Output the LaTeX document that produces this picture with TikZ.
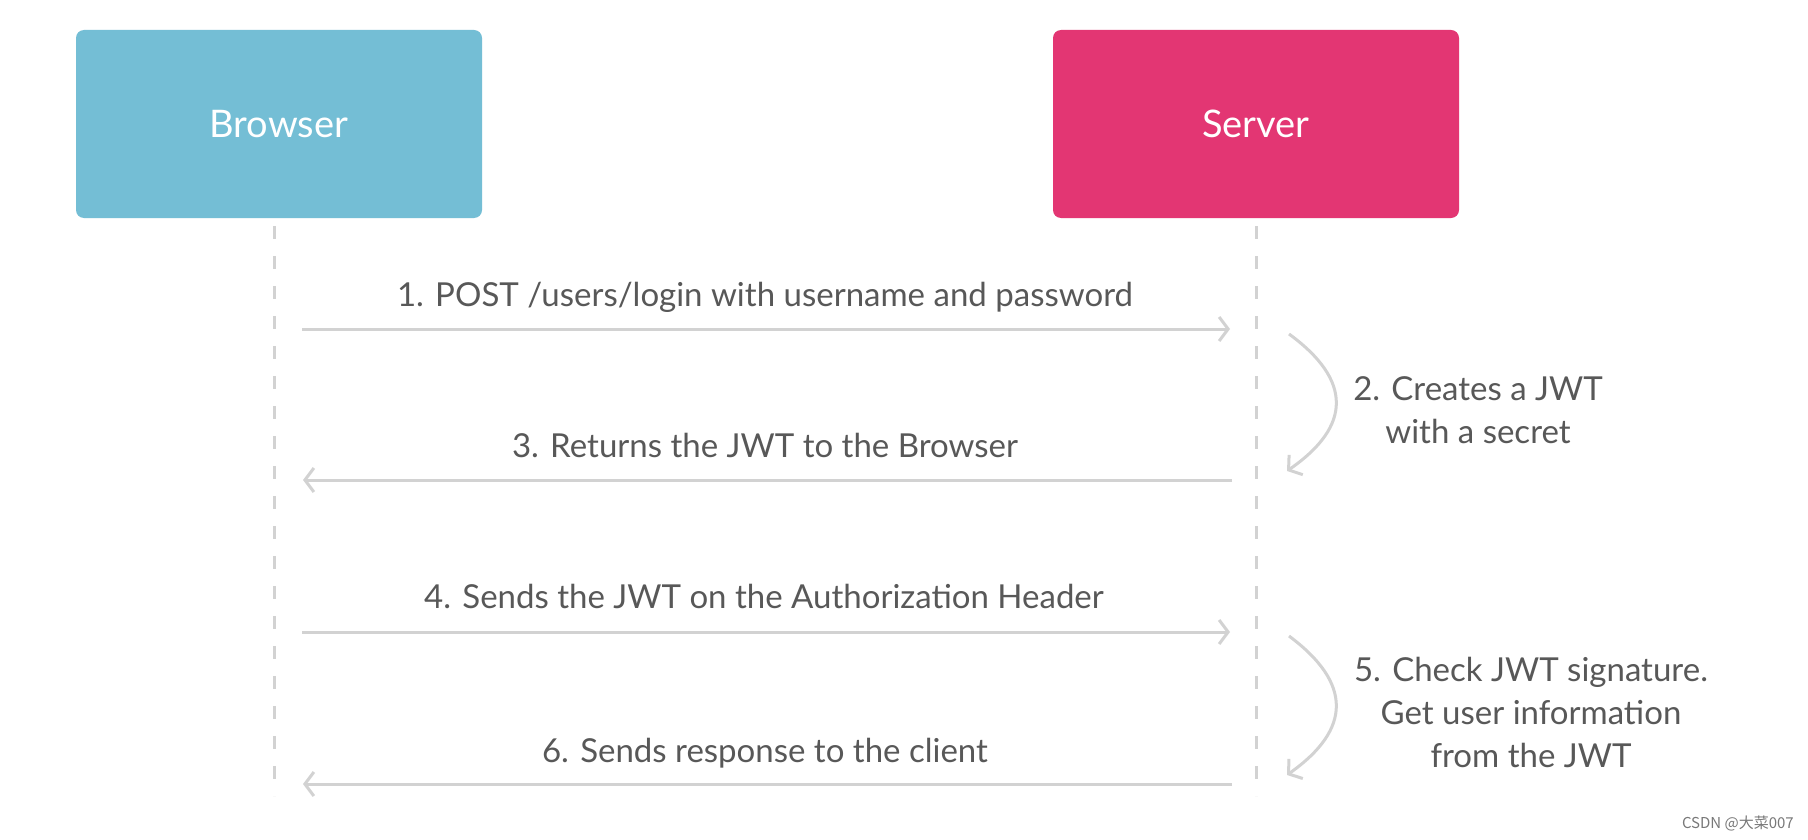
\documentclass[tikz,border=0pt]{standalone}
\usepackage{fontspec}
\setmainfont{Lato}
\newfontfamily\cjkfont{Noto Sans CJK SC}
\usetikzlibrary{arrows.meta}
\definecolor{bblue}{RGB}{116,190,213}
\definecolor{spink}{RGB}{227,54,115}
\definecolor{lgray}{RGB}{210,210,210}
\definecolor{tgray}{RGB}{88,88,88}
\definecolor{wgray}{RGB}{120,120,120}
\begin{document}
\begin{tikzpicture}[x=1pt,y=-1pt,
  actor/.style={rounded corners=8pt, minimum width=406pt, minimum height=188pt, text=white, font=\fontsize{38}{42}\selectfont, inner sep=0pt},
  lifeline/.style={draw=lgray, line width=3pt, dash pattern=on 13pt off 17pt},
  msg/.style={draw=lgray, line width=3pt, -{Straight Barb[length=9pt,width=24pt,line width=3pt]}},
  lbl/.style={text=tgray, font=\fontsize{33}{39}\selectfont, inner sep=0pt, anchor=base},
  note/.style={text=tgray, font=\fontsize{33}{43}\selectfont, align=center, inner sep=0pt},
]
\useasboundingbox (0,0) rectangle (1808,840);
\fill[white] (0,0) rectangle (1808,840);
% actors
\node[actor, fill=bblue] (browser) at (279,124) {Browser};
\node[actor, fill=spink] (server) at (1256,124) {Server};
% lifelines
\coordinate (bTop) at (274,226);
\coordinate (bBot) at (274,796);
\coordinate (sTop) at (1256,226);
\coordinate (sBot) at (1256,796);
\draw[lifeline] (bTop) -- (bBot);
\draw[lifeline] (sTop) -- (sBot);
% message end points
\coordinate (m1s) at (302,329);
\coordinate (m1e) at (1230,329);
\coordinate (m3s) at (1232,480);
\coordinate (m3e) at (303,480);
\coordinate (m4s) at (302,632);
\coordinate (m4e) at (1230,632);
\coordinate (m6s) at (1232,784);
\coordinate (m6e) at (303,784);
\draw[msg] (m1s) -- (m1e);
\draw[msg] (m3s) -- (m3e);
\draw[msg] (m4s) -- (m4e);
\draw[msg] (m6s) -- (m6e);
% labels
\node[lbl] (l1) at (765,306) {1. POST /users/login with username and password};
\node[lbl] (l3) at (765,457) {3. Returns the JWT to the Browser};
\node[lbl] (l4) at (764,608) {4. Sends the JWT on the Authorization Header};
\node[lbl] (l6) at (765,762) {6. Sends response to the client};
% self arrows
\coordinate (c2s) at (1289,334);
\coordinate (c2e) at (1287,471);
\coordinate (c5s) at (1289,636);
\coordinate (c5e) at (1287,775);
\draw[msg] (c2s) .. controls (1352,380) and (1352,426) .. (c2e);
\draw[msg] (c5s) .. controls (1352,683) and (1352,729) .. (c5e);
\node[note] (n2) at (1478,410) {2. Creates a JWT\\with a secret};
\node[note] (n5) at (1531,712) {5. Check JWT signature.\\Get user information\\from the JWT};
% watermark
\node[anchor=east, text=wgray, font=\cjkfont\fontsize{15}{17}\selectfont, inner sep=0pt] (wm) at (1794,823) {CSDN @大菜007};
\end{tikzpicture}
\end{document}
